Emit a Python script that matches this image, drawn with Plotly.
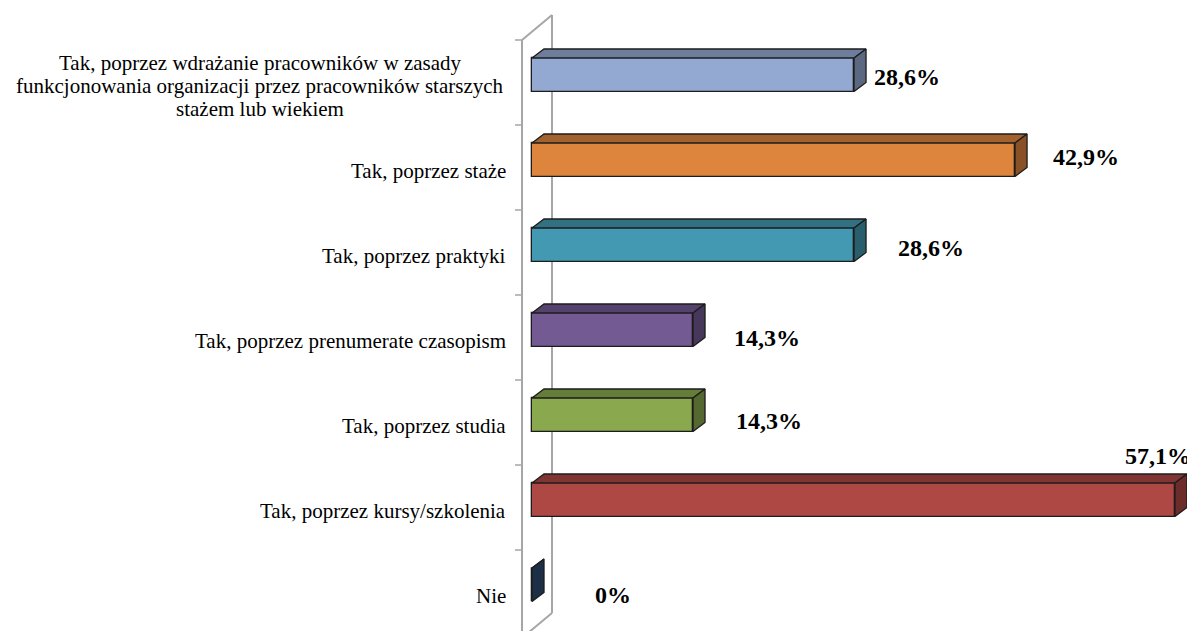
"""Pseudo-3D horizontal bar chart (Excel style) rebuilt with Plotly."""

import plotly.graph_objects as go

# --- data (bottom row first) ---
CATEGORIES = [
    "Nie",
    "Tak, poprzez kursy/szkolenia",
    "Tak, poprzez studia",
    "Tak, poprzez prenumerate czasopism",
    "Tak, poprzez praktyki",
    "Tak, poprzez staże",
    "Tak, poprzez wdrażanie pracowników w zasady<br>"
    "funkcjonowania organizacji przez pracowników starszych<br>"
    "stażem lub wiekiem",
]
VALUES = [0.0, 57.1, 14.3, 14.3, 28.6, 42.9, 28.6]
VALUE_LABELS = ["0%", "57,1%", "14,3%", "14,3%", "28,6%", "42,9%", "28,6%"]

# --- style ---
PAGE_PAD = 8                # default body margin of the html page
W, H = 1195 - PAGE_PAD, 631 - PAGE_PAD
PX_PER_PCT = 11.26          # horizontal scale
ZERO_PX = 532               # where 0% sits (screen px)
ROW_PX = 85                 # row pitch
TOP_ROW_PX = 82.5           # centre of the top row (screen px)

FRONT = ["#2E4D73", "#AD4845", "#8AA84E", "#745A92", "#4399B1", "#DD843D", "#94A9D2"]
EDGE = "#1c1c1c"
WALL = "#a6a6a6"
FONT = '"Liberation Serif", "Times New Roman", serif'

BAR_OFFSET = -0.106         # bar front face relative to the row centre (row units)
BAR_WIDTH = 0.394
DEPTH_X = 12 / PX_PER_PCT   # 3D depth in % units
DEPTH_Y = 9 / ROW_PX        # 3D depth in row units

# label nudges in px (xshift, yshift), bottom row first
LABEL_SHIFT = [(61, -2), (-52, 52), (41, 2), (39, 0), (42, 5), (36, 11), (18, 6)]


def shade(hex_color, k):
    h = hex_color.lstrip("#")
    r, g, b = (int(h[i:i + 2], 16) for i in (0, 2, 4))
    return "#%02x%02x%02x" % (int(r * k), int(g * k), int(b * k))


def px_to_x(px):
    return (px - ZERO_PX) / PX_PER_PCT


def px_to_y(py):
    top = len(CATEGORIES) - 1
    return top + (TOP_ROW_PX - py) / ROW_PX


rows = list(range(len(CATEGORIES)))
fig = go.Figure()

# front faces
fig.add_trace(
    go.Bar(
        x=VALUES,
        y=rows,
        orientation="h",
        width=BAR_WIDTH,
        offset=BAR_OFFSET,
        marker=dict(color=FRONT, line=dict(color=EDGE, width=1.3)),
        hoverinfo="skip",
        showlegend=False,
    )
)

# top and side faces
for i, v in enumerate(VALUES):
    lo = i + BAR_OFFSET
    hi = lo + BAR_WIDTH
    top_x = [0, DEPTH_X, v + DEPTH_X, v, 0]
    top_y = [hi, hi + DEPTH_Y, hi + DEPTH_Y, hi, hi]
    side_x = [v, v + DEPTH_X, v + DEPTH_X, v, v]
    side_y = [hi, hi + DEPTH_Y, lo + DEPTH_Y, lo, hi]
    for xs, ys, k in ((top_x, top_y, 0.74), (side_x, side_y, 0.62)):
        fig.add_trace(
            go.Scatter(
                x=xs, y=ys, mode="lines", fill="toself",
                fillcolor=shade(FRONT[i], k),
                line=dict(color=EDGE, width=1.3),
                hoverinfo="skip", showlegend=False,
            )
        )

# category labels (one annotation per text line, Excel-like line spacing)
for i, cat in enumerate(CATEGORIES):
    lines = cat.split("<br>")
    n = len(lines)
    for j, line in enumerate(lines):
        fig.add_annotation(
            x=px_to_x(508) if n == 1 else px_to_x(260), y=i, xref="x", yref="y",
            text=line, showarrow=False,
            xanchor="right" if n == 1 else "center", yanchor="middle",
            yshift=-3 + ((n - 1) / 2 - j) * 23,
            font=dict(family=FONT, size=21, color="black"),
        )

# value labels
for i, (v, lab) in enumerate(zip(VALUES, VALUE_LABELS)):
    dx, dy = LABEL_SHIFT[i]
    fig.add_annotation(
        x=v, y=i, xref="x", yref="y", text=f"<b>{lab}</b>", showarrow=False,
        xanchor="left", yanchor="middle", xshift=dx, yshift=dy,
        font=dict(family=FONT, size=24, color="black"),
    )

# back wall and row separators
wl, wr = px_to_x(522), px_to_x(552)
wall = [
    (wl, px_to_y(40), wl, px_to_y(645)),
    (wl, px_to_y(40), wr, px_to_y(15)),
    (wr, px_to_y(15), wr, px_to_y(613)),
    (wr, px_to_y(613), wl, px_to_y(638)),
]
for x0, y0, x1, y1 in wall:
    fig.add_shape(type="line", x0=x0, y0=y0, x1=x1, y1=y1, xref="x", yref="y",
                  line=dict(color=WALL, width=2), layer="below")
for i in rows:
    yb = i + 0.5
    fig.add_shape(type="line", x0=px_to_x(515), x1=wl, y0=yb, y1=yb, xref="x", yref="y",
                  line=dict(color=WALL, width=1.5), layer="below")

fig.update_layout(
    width=W,
    height=H,
    margin=dict(l=0, r=0, t=0, b=0),
    paper_bgcolor="white",
    plot_bgcolor="white",
    xaxis=dict(range=[px_to_x(PAGE_PAD), px_to_x(PAGE_PAD + W)], visible=False, fixedrange=True),
    yaxis=dict(range=[px_to_y(PAGE_PAD + H), px_to_y(PAGE_PAD)], visible=False, fixedrange=True),
    showlegend=False,
    bargap=0,
)

fig.write_html("out.html", config={"displayModeBar": False})
